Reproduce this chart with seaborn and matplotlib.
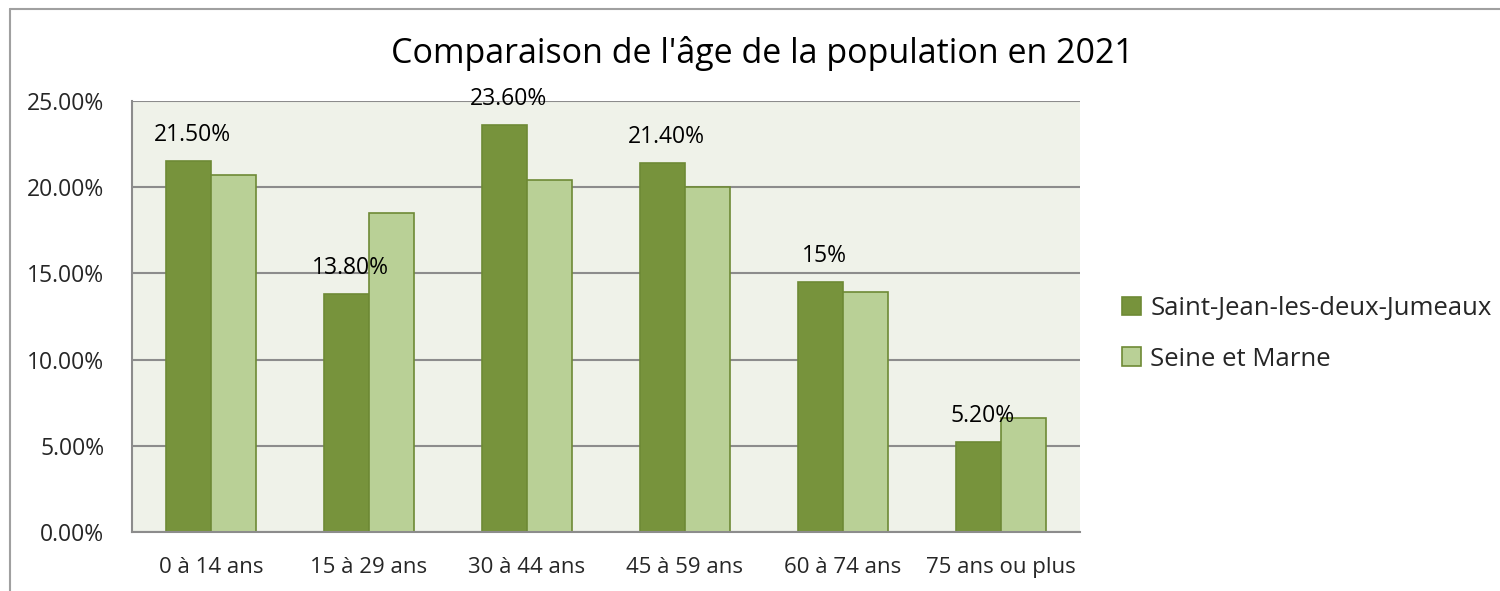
import matplotlib
matplotlib.use("Agg")
import matplotlib.pyplot as plt
import seaborn as sns
import pandas as pd
from matplotlib.lines import Line2D

categories = ["0 à 14 ans", "15 à 29 ans", "30 à 44 ans", "45 à 59 ans", "60 à 74 ans", "75 ans ou plus"]
series_names = ["Saint-Jean-les-deux-Jumeaux", "Seine et Marne"]
saint_jean = [21.5, 13.8, 23.6, 21.4, 14.5, 5.2]
seine_marne = [20.7, 18.5, 20.4, 20.0, 13.9, 6.6]
value_labels = ["21.50%", "13.80%", "23.60%", "21.40%", "15%", "5.20%"]
y_ticks = [0, 5, 10, 15, 20, 25]
y_tick_labels = ["0.00%", "5.00%", "10.00%", "15.00%", "20.00%", "25.00%"]
title = "Comparaison de l'âge de la population en 2021"

df = pd.DataFrame({
    "cat": categories * 2,
    "serie": [series_names[0]] * 6 + [series_names[1]] * 6,
    "val": saint_jean + seine_marne,
})

sns.set_theme(style="white")
plt.rcParams["font.family"] = ["Open Sans", "DejaVu Sans"]

fig = plt.figure(figsize=(15, 5.91), dpi=100)
ax = fig.add_axes([0.088, 0.0998, 0.632, 0.7292])

dark = "#77933C"
light = "#B9D096"
sns.barplot(data=df, x="cat", y="val", hue="serie", order=categories,
            hue_order=series_names, palette=[dark, light], width=0.57,
            ax=ax, saturation=1, legend=True)
for p in ax.patches:
    p.set_edgecolor("#6E8A35")
    p.set_linewidth(1.2)

ax.set_facecolor("#EFF2E9")
ax.set_ylim(0, 25)
ax.set_xlim(-0.5, 5.5)
ax.set_yticks(y_ticks)
ax.set_yticklabels(y_tick_labels, fontsize=16.5)
ax.tick_params(axis="x", labelsize=16, pad=18, length=0)
ax.tick_params(axis="y", pad=20, length=0)
ax.set_xlabel("")
ax.set_ylabel("")
ax.yaxis.grid(True, color="#8C8C8C", linewidth=1.5)
ax.set_axisbelow(True)
for s in ["top", "right"]:
    ax.spines[s].set_visible(False)
for s in ["left", "bottom"]:
    ax.spines[s].set_color("#8C8C8C")
    ax.spines[s].set_linewidth(1.5)

for i, lab in enumerate(value_labels):
    ax.annotate(lab, xy=(i - 0.1425, saint_jean[i]), xytext=(3, 19),
                textcoords="offset points", ha="center", va="center",
                fontsize=16.5, color="black")

handles, labels = ax.get_legend_handles_labels()
ax.legend(handles, labels, loc="center left", bbox_to_anchor=(1.02, 0.46),
          frameon=False, fontsize=18.5, handlelength=0.75, handleheight=0.75,
          handletextpad=0.35, labelspacing=1.0)

fig.text(0.508, 0.91, title, ha="center", va="center", fontsize=24.5,
         color="black")

fig.add_artist(Line2D([10/1500, 10/1500], [0, 1 - 9/591], transform=fig.transFigure,
                      color="#A0A0A0", linewidth=1.5))
fig.add_artist(Line2D([10/1500, 1], [1 - 9/591, 1 - 9/591], transform=fig.transFigure,
                      color="#A0A0A0", linewidth=1.5))

fig.savefig("out.png", dpi=100, facecolor="white")
